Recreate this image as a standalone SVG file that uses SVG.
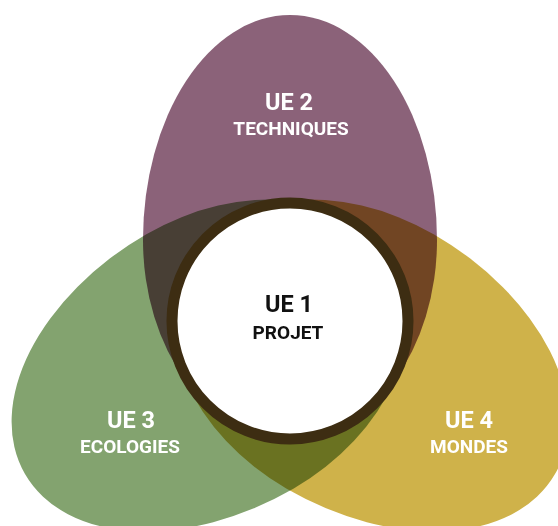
<svg xmlns="http://www.w3.org/2000/svg" xmlns:xlink="http://www.w3.org/1999/xlink" width="558" height="526" viewBox="0 0 558 526">
  <style>
    .lobe { mix-blend-mode: multiply; }
    .title { font-family: Roboto, "Liberation Sans", sans-serif; font-weight: 700; text-anchor: middle; }
    .num { font-size: 23.5px; }
    .sub { font-size: 19px; }
    .light { fill: #ffffff; }
    .dark { fill: #111111; }
  </style>
  <defs>
    <!-- egg-shaped lobe, drawn pointing up, around the shared centre -->
    <path id="lobe-shape" d="M -147,-81 A 147 225 0 0 1 147,-81 A 147 200 0 0 1 -147,-81 Z"/>
  </defs>

  <rect width="558" height="526" fill="#ffffff"/>

  <g id="connectors"/>

  <g id="lobes" style="isolation:isolate">
    <g id="ue2" class="lobe" transform="translate(290,321)">
      <use xlink:href="#lobe-shape" href="#lobe-shape" fill="#8b6279"/>
    </g>
    <g id="ue3" class="lobe" transform="translate(290,321) rotate(-120)">
      <use xlink:href="#lobe-shape" href="#lobe-shape" fill="#83a36f"/>
    </g>
    <g id="ue4" class="lobe" transform="translate(290,321) rotate(120)">
      <use xlink:href="#lobe-shape" href="#lobe-shape" fill="#cfb24a"/>
    </g>
  </g>

  <g id="ue1">
    <circle cx="290" cy="321" r="118" fill="#ffffff" stroke="#3d2d12" stroke-width="11"/>
    <text class="title num dark" x="289" y="312">UE 1</text>
    <text class="title sub dark" x="288" y="339">PROJET</text>
  </g>

  <g id="labels">
    <text class="title num light" x="289" y="110">UE 2</text>
    <text class="title sub light" x="291" y="135">TECHNIQUES</text>
    <text class="title num light" x="131" y="428">UE 3</text>
    <text class="title sub light" x="130" y="453">ECOLOGIES</text>
    <text class="title num light" x="469" y="428">UE 4</text>
    <text class="title sub light" x="469" y="453">MONDES</text>
  </g>
</svg>
